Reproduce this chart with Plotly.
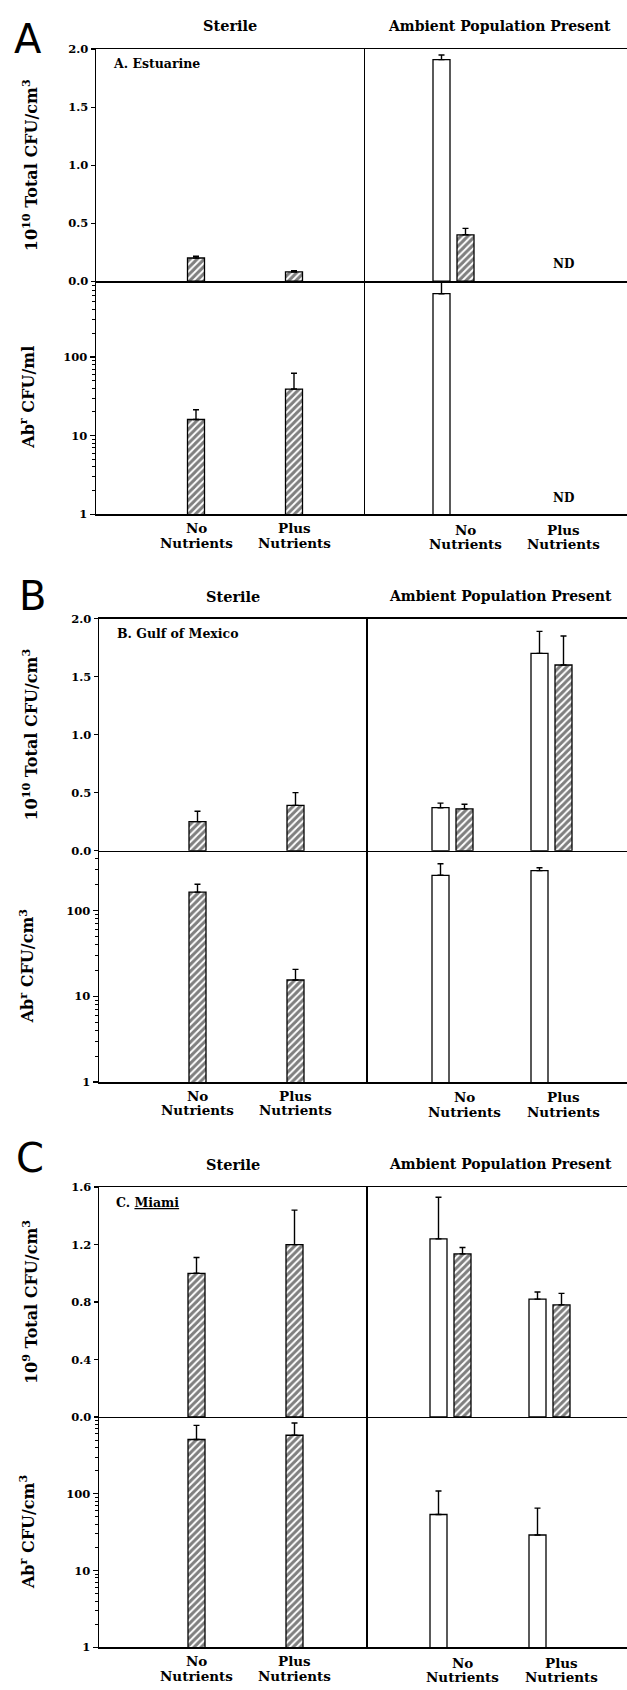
import plotly.graph_objects as go
import math

W, H = 627, 1690

# ---------------- data ----------------
categories = ["No Nutrients", "Plus Nutrients"]
cat_line1 = ["No", "Plus"]
cat_line2 = ["Nutrients", "Nutrients"]

# Panel A (Estuarine), total counts in 10^10 CFU/cm3
A_sterile_total = [0.20, 0.08]
A_sterile_total_err = [0.015, 0.01]
A_amb_total_open = [1.91, None]
A_amb_total_open_err = [0.04, None]
A_amb_total_hatch = [0.40, None]
A_amb_total_hatch_err = [0.055, None]
# Abr CFU/ml
A_sterile_abr = [16, 39]
A_sterile_abr_err = [5.3, 23]
A_amb_abr_open = [635, None]
A_amb_abr_open_err = [280, None]

# Panel B (Gulf of Mexico)
B_sterile_total = [0.25, 0.39]
B_sterile_total_err = [0.09, 0.11]
B_amb_total_open = [0.37, 1.70]
B_amb_total_open_err = [0.04, 0.19]
B_amb_total_hatch = [0.36, 1.60]
B_amb_total_hatch_err = [0.04, 0.25]
B_sterile_abr = [164, 15.5]
B_sterile_abr_err = [39, 5.1]
B_amb_abr_open = [258, 292]
B_amb_abr_open_err = [93, 24]

# Panel C (Miami), total counts in 10^9 CFU/cm3
C_sterile_total = [1.00, 1.20]
C_sterile_total_err = [0.11, 0.24]
C_amb_total_open = [1.24, 0.82]
C_amb_total_open_err = [0.29, 0.05]
C_amb_total_hatch = [1.135, 0.78]
C_amb_total_hatch_err = [0.045, 0.08]
C_sterile_abr = [508, 577]
C_sterile_abr_err = [269, 255]
C_amb_abr_open = [53.6, 29]
C_amb_abr_open_err = [55, 36]

top_ticks_AB = [0, 0.5, 1.0, 1.5, 2.0]
top_ticks_C = [0, 0.4, 0.8, 1.2, 1.6]
log_ticks = [1, 10, 100]
log_minor = [m * d for d in (1, 10, 100) for m in range(2, 10)]

panels = [
    dict(letter="A", site="A. Estuarine",
         ytitle_top="10<sup>10</sup> Total CFU/cm<sup>3</sup>",
         ytitle_bot="Ab<sup>r</sup> CFU/ml",
         st=A_sterile_total, st_e=A_sterile_total_err,
         ao=A_amb_total_open, ao_e=A_amb_total_open_err,
         ah=A_amb_total_hatch, ah_e=A_amb_total_hatch_err,
         sa=A_sterile_abr, sa_e=A_sterile_abr_err,
         aa=A_amb_abr_open, aa_e=A_amb_abr_open_err,
         yticks=top_ticks_AB, ymax=2.0, logmax=math.log10(915),
         nd=True),
    dict(letter="B", site="B. Gulf of Mexico",
         ytitle_top="10<sup>10</sup> Total CFU/cm<sup>3</sup>",
         ytitle_bot="Ab<sup>r</sup> CFU/cm<sup>3</sup>",
         st=B_sterile_total, st_e=B_sterile_total_err,
         ao=B_amb_total_open, ao_e=B_amb_total_open_err,
         ah=B_amb_total_hatch, ah_e=B_amb_total_hatch_err,
         sa=B_sterile_abr, sa_e=B_sterile_abr_err,
         aa=B_amb_abr_open, aa_e=B_amb_abr_open_err,
         yticks=top_ticks_AB, ymax=2.0, logmax=math.log10(500),
         nd=False),
    dict(letter="C", site="C. <u>Miami</u>",
         ytitle_top="10<sup>9</sup> Total CFU/cm<sup>3</sup>",
         ytitle_bot="Ab<sup>r</sup> CFU/cm<sup>3</sup>",
         st=C_sterile_total, st_e=C_sterile_total_err,
         ao=C_amb_total_open, ao_e=C_amb_total_open_err,
         ah=C_amb_total_hatch, ah_e=C_amb_total_hatch_err,
         sa=C_sterile_abr, sa_e=C_sterile_abr_err,
         aa=C_amb_abr_open, aa_e=C_amb_abr_open_err,
         yticks=top_ticks_C, ymax=1.6, logmax=3.0,
         nd=False),
]

# ---------------- geometry (pixels) ----------------
geoms = [
    dict(left=96, div=365, top=42.5, mid=276.5, bot=511.5, s=(196, 294), a=(465, 563),
         letter_xy=(28, 32), head_y=19, ster_x=230, amb_x=499, site_xy=(111, 57)),
    dict(left=99, div=367.5, top=616.7, mid=850.7, bot=1084, s=(197.5, 295.5), a=(464, 563),
         letter_xy=(32, 594), head_y=594, ster_x=233, amb_x=501, site_xy=(115, 632)),
    dict(left=99, div=367.5, top=1190, mid=1421.7, bot=1654, s=(196.5, 294.5), a=(462, 561),
         letter_xy=(30, 1161), head_y=1167, ster_x=233, amb_x=501, site_xy=(114, 1205)),
]

def fx(px):
    return px / W

def fy(py):
    return 1 - py / H

FONT = "DejaVu Serif"
BAR_W_PX = 17
LW = 1.5

def bar_marker(hatched):
    m = dict(color="white", line=dict(color="black", width=1.3))
    if hatched:
        m["pattern"] = dict(shape="/", fgcolor="black", bgcolor="white",
                            size=5, solidity=0.6)
    return m

def err(arr):
    return dict(type="data", symmetric=False, array=arr,
                arrayminus=[0 if v is not None else None for v in arr],
                color="black", thickness=1.4, width=3)

fig = go.Figure()
layout = dict(width=W, height=H, autosize=False,
              margin=dict(l=0, r=0, t=0, b=0),
              paper_bgcolor="white", plot_bgcolor="white",
              showlegend=False, barmode="overlay",
              font=dict(family=FONT, color="black"))
annotations = []

def nm(i):
    return "" if i == 1 else str(i)

for p, (pan, g) in enumerate(zip(panels, geoms)):
    base = p * 4
    i_tl, i_tr, i_bl, i_br = base + 1, base + 2, base + 3, base + 4
    unit_s = g["s"][1] - g["s"][0]
    unit_a = g["a"][1] - g["a"][0]
    xr_s = [-(g["s"][0] - g["left"]) / unit_s, (g["div"] - g["s"][0]) / unit_s]
    xr_a = [-(g["a"][0] - g["div"]) / unit_a, (W - g["a"][0]) / unit_a]
    dom_s = [fx(g["left"]), fx(g["div"])]
    dom_a = [fx(g["div"]), 1.0]
    dom_top = [fy(g["mid"]), fy(g["top"])]
    dom_bot = [fy(g["bot"]), fy(g["mid"])]

    common_x = dict(type="category", categoryarray=categories, categoryorder="array",
                    showline=True, linecolor="black", linewidth=LW, ticks="",
                    showticklabels=False, showgrid=False, zeroline=False, fixedrange=True)
    tickfont = dict(family=FONT, size=11.5, color="black", weight="bold")

    layout["xaxis" + nm(i_tl)] = dict(common_x, domain=dom_s, range=xr_s,
                                     anchor="y" + nm(i_tl), mirror=True)
    layout["yaxis" + nm(i_tl)] = dict(domain=dom_top, range=[0, pan["ymax"]],
                                     anchor="x" + nm(i_tl), tickvals=pan["yticks"],
                                     ticktext=["%.1f" % v for v in pan["yticks"]],
                                     ticks="outside", ticklen=4, tickwidth=1.3, tickcolor="black",
                                     showline=True, linecolor="black", linewidth=LW,
                                     showgrid=False, zeroline=False, tickfont=tickfont,
                                     fixedrange=True)
    layout["xaxis" + nm(i_tr)] = dict(common_x, domain=dom_a, range=xr_a,
                                     anchor="y" + nm(i_tr), mirror=True)
    layout["yaxis" + nm(i_tr)] = dict(domain=dom_top, range=[0, pan["ymax"]],
                                     anchor="x" + nm(i_tr), showticklabels=False, ticks="",
                                     showline=True, linecolor="black", linewidth=LW,
                                     showgrid=False, zeroline=False, fixedrange=True)
    layout["xaxis" + nm(i_bl)] = dict(common_x, domain=dom_s, range=xr_s,
                                     anchor="y" + nm(i_bl))
    layout["yaxis" + nm(i_bl)] = dict(domain=dom_bot, type="log", range=[0, pan["logmax"]],
                                     anchor="x" + nm(i_bl), tickvals=log_ticks,
                                     ticktext=[str(v) for v in log_ticks],
                                     ticks="outside", ticklen=5, tickwidth=1.3, tickcolor="black",
                                     minor=dict(tickvals=log_minor, ticks="outside", ticklen=3,
                                                tickwidth=1, tickcolor="black", showgrid=False),
                                     showline=True, linecolor="black", linewidth=LW,
                                     showgrid=False, zeroline=False, tickfont=tickfont,
                                     fixedrange=True)
    layout["xaxis" + nm(i_br)] = dict(common_x, domain=dom_a, range=xr_a,
                                     anchor="y" + nm(i_br))
    layout["yaxis" + nm(i_br)] = dict(domain=dom_bot, type="log", range=[0, pan["logmax"]],
                                     anchor="x" + nm(i_br), showticklabels=False, ticks="",
                                     showline=True, linecolor="black", linewidth=LW,
                                     showgrid=False, zeroline=False, fixedrange=True)

    ws = BAR_W_PX / unit_s
    wa = BAR_W_PX / unit_a
    fig.add_trace(go.Bar(x=categories, y=pan["st"], error_y=err(pan["st_e"]),
                         width=ws, offset=-ws / 2, marker=bar_marker(True),
                         xaxis="x" + nm(i_tl), yaxis="y" + nm(i_tl)))
    fig.add_trace(go.Bar(x=categories, y=pan["ao"], error_y=err(pan["ao_e"]),
                         width=wa, offset=-32 / unit_a, marker=bar_marker(False),
                         xaxis="x" + nm(i_tr), yaxis="y" + nm(i_tr)))
    fig.add_trace(go.Bar(x=categories, y=pan["ah"], error_y=err(pan["ah_e"]),
                         width=wa, offset=-8 / unit_a, marker=bar_marker(True),
                         xaxis="x" + nm(i_tr), yaxis="y" + nm(i_tr)))
    fig.add_trace(go.Bar(x=categories, y=pan["sa"], error_y=err(pan["sa_e"]),
                         width=ws, offset=-ws / 2, marker=bar_marker(True),
                         xaxis="x" + nm(i_bl), yaxis="y" + nm(i_bl)))
    fig.add_trace(go.Bar(x=categories, y=pan["aa"], error_y=err(pan["aa_e"]),
                         width=wa, offset=-32 / unit_a, marker=bar_marker(False),
                         xaxis="x" + nm(i_br), yaxis="y" + nm(i_br)))

    lx, ly = g["letter_xy"]
    annotations.append(dict(text=pan["letter"], x=fx(lx), y=fy(ly), xref="paper", yref="paper",
                            xanchor="center", yanchor="middle", showarrow=False,
                            font=dict(family="DejaVu Sans", size=40, color="black")))
    annotations.append(dict(text="Sterile", x=fx(g["ster_x"]), y=fy(g["head_y"]),
                            xref="paper", yref="paper", xanchor="center", yanchor="middle",
                            showarrow=False, font=dict(family=FONT, size=14.5, weight="bold")))
    annotations.append(dict(text="Ambient Population Present", x=fx(g["amb_x"]), y=fy(g["head_y"]),
                            xref="paper", yref="paper", xanchor="center", yanchor="middle",
                            showarrow=False, font=dict(family=FONT, size=14, weight="bold")))
    sx, sy = g["site_xy"]
    annotations.append(dict(text=pan["site"], x=fx(sx), y=fy(sy), xref="paper", yref="paper",
                            xanchor="left", yanchor="middle", showarrow=False,
                            font=dict(family=FONT, size=12.5, weight="bold")))
    annotations.append(dict(text=pan["ytitle_top"], x=fx(30), y=fy((g["top"] + g["mid"]) / 2),
                            xref="paper", yref="paper", xanchor="center", yanchor="middle",
                            textangle=-90, showarrow=False,
                            font=dict(family=FONT, size=16, weight="bold")))
    annotations.append(dict(text=pan["ytitle_bot"], x=fx(27), y=fy((g["mid"] + g["bot"]) / 2),
                            xref="paper", yref="paper", xanchor="center", yanchor="middle",
                            textangle=-90, showarrow=False,
                            font=dict(family=FONT, size=16, weight="bold")))
    for ci in range(len(categories)):
        for xi, dy1, dy2 in ((i_bl, 14, 28.5), (i_br, 15.5, 30)):
            annotations.append(dict(text=cat_line1[ci], x=ci, y=fy(g["bot"] + dy1),
                                    xref="x" + nm(xi), yref="paper", xanchor="center",
                                    yanchor="middle", showarrow=False,
                                    font=dict(family=FONT, size=13.5, weight="bold")))
            annotations.append(dict(text=cat_line2[ci], x=ci, y=fy(g["bot"] + dy2),
                                    xref="x" + nm(xi), yref="paper", xanchor="center",
                                    yanchor="middle", showarrow=False,
                                    font=dict(family=FONT, size=13.5, weight="bold")))
    if pan["nd"]:
        annotations.append(dict(text="ND", x=1, y=0.146, xref="x" + nm(i_tr), yref="y" + nm(i_tr),
                                xanchor="center", yanchor="middle", showarrow=False,
                                font=dict(family=FONT, size=12, weight="bold")))
        annotations.append(dict(text="ND", x=1, y=math.log10(1.6), xref="x" + nm(i_br),
                                yref="y" + nm(i_br), xanchor="center", yanchor="middle",
                                showarrow=False, font=dict(family=FONT, size=12, weight="bold")))

layout["annotations"] = annotations
fig.update_layout(**layout)
fig.write_html("out.html",
               config={"displayModeBar": False, "staticPlot": True},
               post_script="document.body.style.margin='0';document.body.style.overflow='hidden';")
